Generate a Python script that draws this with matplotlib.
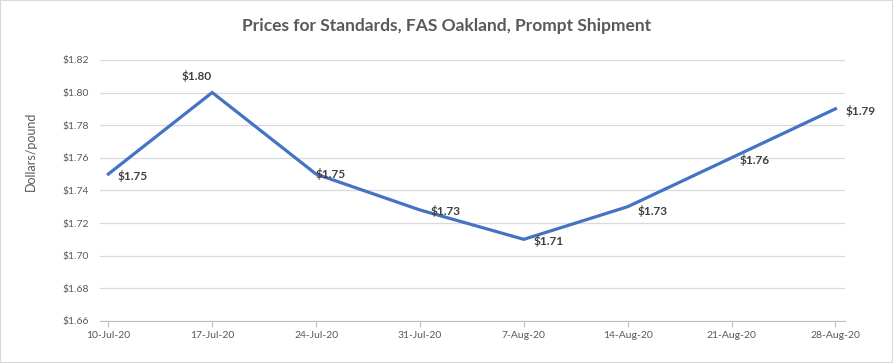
import matplotlib.pyplot as plt

plt.rcParams['font.family'] = ['Lato', 'DejaVu Sans']

dates = ["10-Jul-20", "17-Jul-20", "24-Jul-20", "31-Jul-20",
         "7-Aug-20", "14-Aug-20", "21-Aug-20", "28-Aug-20"]
prices = [1.75, 1.80, 1.75, 1.728, 1.71, 1.73, 1.76, 1.79]
labels = ["$1.75", "$1.80", "$1.75", "$1.73", "$1.71", "$1.73", "$1.76", "$1.79"]
yticks = [1.66, 1.68, 1.70, 1.72, 1.74, 1.76, 1.78, 1.80, 1.82]

fig = plt.figure(figsize=(8.93, 3.63), dpi=100)
fig.patches.append(plt.Rectangle((0, 0), 1, 1, transform=fig.transFigure,
                                 fill=False, edgecolor='#d9d9d9', lw=1.5))
ax = fig.add_axes([0.112, 0.116, 0.834, 0.719])

x = list(range(len(dates)))
ax.plot(x, prices, color='#4472C4', lw=2.3, solid_joinstyle='miter')

# label offsets (points) and alignment, matching the original placement
offsets = [(7, -1.5), (0, 12), (0, 0), (8, -1), (7, -1), (7, -3), (6, -1.5), (7, -1.5)]
aligns = ['left', 'right', 'left', 'left', 'left', 'left', 'left', 'left']
for xi, yi, lab, off, ha in zip(x, prices, labels, offsets, aligns):
    ax.annotate(lab, (xi, yi), xytext=off, textcoords='offset points',
                fontsize=8.5, fontweight='bold', color='#404040',
                ha=ha, va='center')

ax.set_xlim(-0.08, 7.09)
ax.set_ylim(1.66, 1.82)
ax.set_yticks(yticks)
ax.set_yticklabels(["$%.2f" % v for v in yticks])
ax.set_xticks(x)
ax.set_xticklabels(dates)
ax.tick_params(axis='y', length=0, labelsize=7.5, labelcolor='#595959', pad=8)
ax.tick_params(axis='x', length=4, color='#bfbfbf', labelsize=7.5, labelcolor='#595959')
ax.grid(axis='y', color='#d9d9d9', lw=0.9)
ax.set_axisbelow(True)
for s in ['top', 'right', 'left']:
    ax.spines[s].set_visible(False)
ax.spines['bottom'].set_color('#bfbfbf')

ax.set_ylabel("Dollars/pound", fontsize=9, color='#595959', labelpad=21)
ax.yaxis.set_label_coords(-0.085, 0.65)
fig.suptitle("Prices for Standards, FAS Oakland, Prompt Shipment",
             fontsize=12.5, fontweight='bold', color='#595959', y=0.95)

fig.savefig("out.png", dpi=100)
